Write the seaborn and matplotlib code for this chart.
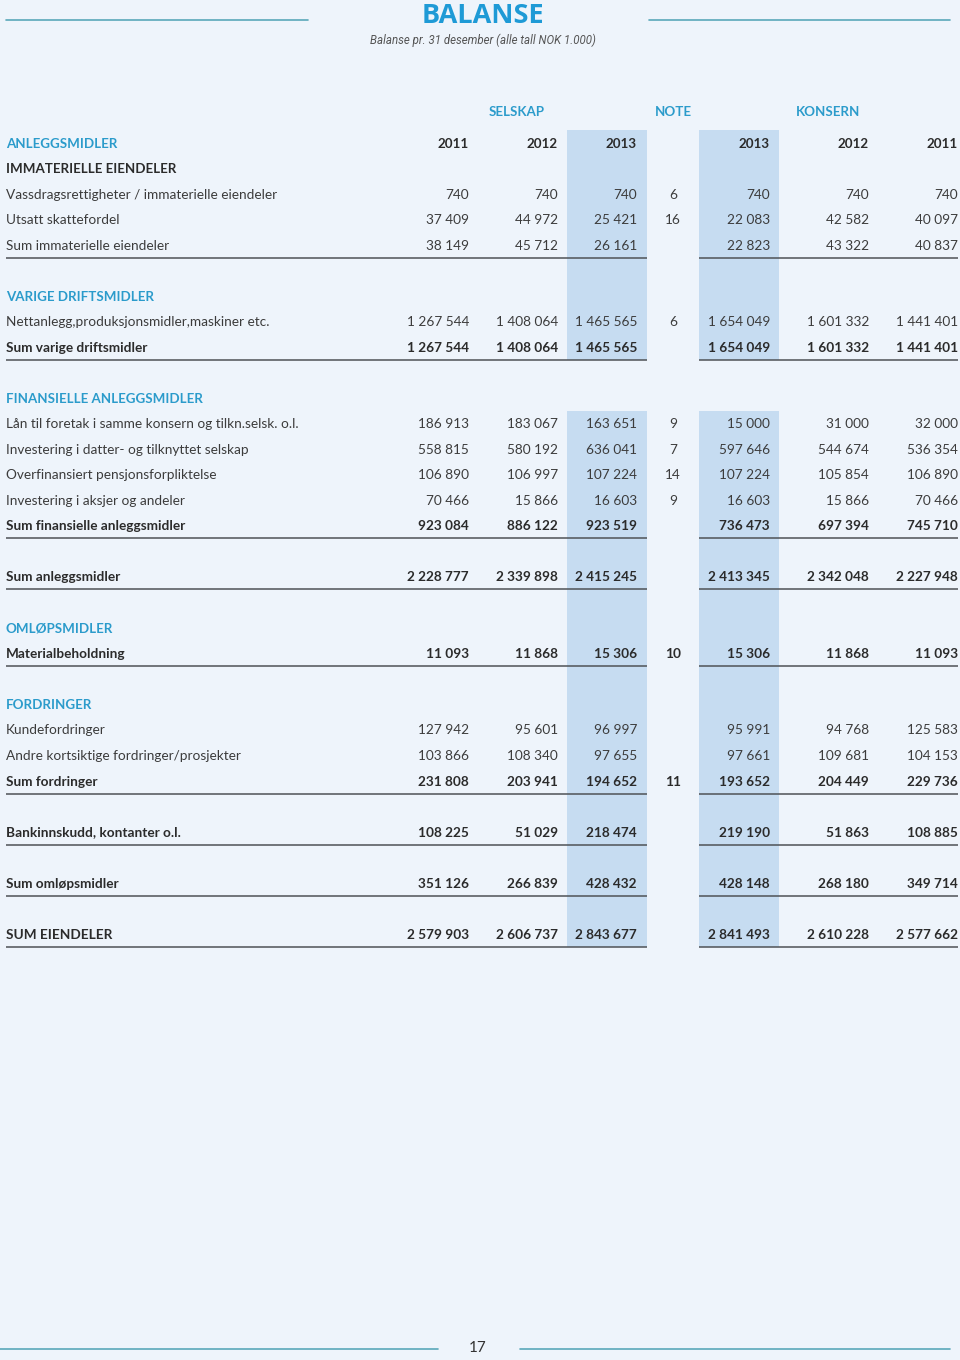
import matplotlib
matplotlib.use("Agg")
import matplotlib.pyplot as plt
import seaborn as sns

sns.set_theme(style="white")
plt.rcParams['font.family'] = ['Lato', 'DejaVu Sans']

# ---------------- data ----------------
title = "BALANSE"
subtitle = "Balanse pr. 31 desember (alle tall NOK 1.000)"
group_headers = ["SELSKAP", "NOTE", "KONSERN"]
year_headers = ["2011", "2012", "2013", "2013", "2012", "2011"]

labels = [
    "ANLEGGSMIDLER", "IMMATERIELLE EIENDELER",
    "Vassdragsrettigheter / immaterielle eiendeler", "Utsatt skattefordel",
    "Sum immaterielle eiendeler", "",
    "VARIGE DRIFTSMIDLER", "Nettanlegg,produksjonsmidler,maskiner etc.",
    "Sum varige driftsmidler", "",
    "FINANSIELLE ANLEGGSMIDLER", "Lån til foretak i samme konsern og tilkn.selsk. o.l.",
    "Investering i datter- og tilknyttet selskap", "Overfinansiert pensjonsforpliktelse",
    "Investering i aksjer og andeler", "Sum finansielle anleggsmidler", "",
    "Sum anleggsmidler", "",
    "OMLØPSMIDLER", "Materialbeholdning", "",
    "FORDRINGER", "Kundefordringer", "Andre kortsiktige fordringer/prosjekter",
    "Sum fordringer", "",
    "Bankinnskudd, kontanter o.l.", "",
    "Sum omløpsmidler", "",
    "SUM EIENDELER",
]
kinds = [
    "section", "sub", "item", "item", "sum_nl", "blank",
    "section", "item", "sum", "blank",
    "section", "item", "item", "item", "item", "sum", "blank",
    "sum", "blank",
    "section", "sum", "blank",
    "section", "item", "item", "sum", "blank",
    "sum", "blank", "sum", "blank", "sum",
]
notes = ["", "", "6", "16", "", "", "", "6", "", "", "", "9", "7", "14", "9", "", "",
         "", "", "", "10", "", "", "", "", "11", "", "", "", "", "", ""]

s2011 = [None, None, "740", "37 409", "38 149", None, None, "1 267 544", "1 267 544", None,
         None, "186 913", "558 815", "106 890", "70 466", "923 084", None, "2 228 777", None,
         None, "11 093", None, None, "127 942", "103 866", "231 808", None, "108 225", None,
         "351 126", None, "2 579 903"]
s2012 = [None, None, "740", "44 972", "45 712", None, None, "1 408 064", "1 408 064", None,
         None, "183 067", "580 192", "106 997", "15 866", "886 122", None, "2 339 898", None,
         None, "11 868", None, None, "95 601", "108 340", "203 941", None, "51 029", None,
         "266 839", None, "2 606 737"]
s2013 = [None, None, "740", "25 421", "26 161", None, None, "1 465 565", "1 465 565", None,
         None, "163 651", "636 041", "107 224", "16 603", "923 519", None, "2 415 245", None,
         None, "15 306", None, None, "96 997", "97 655", "194 652", None, "218 474", None,
         "428 432", None, "2 843 677"]
k2013 = [None, None, "740", "22 083", "22 823", None, None, "1 654 049", "1 654 049", None,
         None, "15 000", "597 646", "107 224", "16 603", "736 473", None, "2 413 345", None,
         None, "15 306", None, None, "95 991", "97 661", "193 652", None, "219 190", None,
         "428 148", None, "2 841 493"]
k2012 = [None, None, "740", "42 582", "43 322", None, None, "1 601 332", "1 601 332", None,
         None, "31 000", "544 674", "105 854", "15 866", "697 394", None, "2 342 048", None,
         None, "11 868", None, None, "94 768", "109 681", "204 449", None, "51 863", None,
         "268 180", None, "2 610 228"]
k2011 = [None, None, "740", "40 097", "40 837", None, None, "1 441 401", "1 441 401", None,
         None, "32 000", "536 354", "106 890", "70 466", "745 710", None, "2 227 948", None,
         None, "11 093", None, None, "125 583", "104 153", "229 736", None, "108 885", None,
         "349 714", None, "2 577 662"]
value_columns = [s2011, s2012, s2013, k2013, k2012, k2011]
page_number = "17"

# ---------------- layout / style ----------------
BG = "#EEF4FB"
SHADE = "#C6DCF1"
BLUE = "#2B9BCB"
DARK = "#2B2B2B"
TEXT = "#3C3C3C"
LINE = "#4E5256"
TEAL = "#5AA8BA"

col_right = [469, 558, 637, 770, 869, 958]
note_x = 673
y0, step = 143, 25.52
shade_runs = [(0, 8), (11, 31)]
shade_cols = [(567, 647), (699, 779)]

fig = plt.figure(figsize=(9.6, 13.6), dpi=100, facecolor=BG)
ax = fig.add_axes([0, 0, 1, 1])
ax.set_xlim(0, 960)
ax.set_ylim(1360, 0)
ax.set_facecolor(BG)
ax.axis("off")

def ry(i):
    return y0 + step * i

# shaded columns
for a, b in shade_runs:
    for x1, x2 in shade_cols:
        ax.fill_between([x1, x2], ry(a) - 13, ry(b) + 12.5, color=SHADE, lw=0, zorder=0)

# title area
ax.text(483, 16, title, ha="center", va="center", fontsize=19.5, fontweight="bold",
        color="#1E9AD6", family=["Open Sans", "DejaVu Sans"])
ax.text(483, 40, subtitle, ha="center", va="center", fontsize=8.3, style="italic",
        color="#555555", family=["Roboto", "DejaVu Sans"])
ax.plot([6, 308], [20, 20], color=TEAL, lw=1.2)
ax.plot([649, 950], [20, 20], color=TEAL, lw=1.2)

# group headers
for txt, x in zip(group_headers, [517, 673, 828]):
    ax.text(x, 111 + 4.5, txt, ha="center", va="baseline", fontsize=9.6,
            fontweight="bold", color=BLUE)

# year headers on row 0
for txt, x in zip(year_headers, col_right):
    ax.text(x, ry(0) + 4.5, txt, ha="right", va="baseline", fontsize=9.6,
            fontweight="bold", color=DARK)

for i, (lab, kind) in enumerate(zip(labels, kinds)):
    if kind == "blank":
        continue
    yb = ry(i) + 4.5
    if kind == "section":
        ax.text(6, yb, lab, ha="left", va="baseline", fontsize=9.6, fontweight="bold",
                color=BLUE)
        continue
    if kind == "sub":
        ax.text(6, yb, lab, ha="left", va="baseline", fontsize=9.6, fontweight="bold",
                color=DARK)
        continue
    bold = kind == "sum"
    weight = "bold" if bold else "normal"
    color = DARK if bold else TEXT
    ax.text(6, yb, lab, ha="left", va="baseline", fontsize=9.8, fontweight=weight,
            color=color)
    for col, x in zip(value_columns, col_right):
        v = col[i]
        if v:
            ax.text(x, yb, v, ha="right", va="baseline", fontsize=9.8,
                    fontweight=weight, color=color)
    if notes[i]:
        ax.text(note_x, yb, notes[i], ha="center", va="baseline", fontsize=9.8,
                fontweight=weight, color=color)
    if kind in ("sum", "sum_nl") :
        yl = ry(i) + 12.5
        ax.plot([6, 647], [yl, yl], color=LINE, lw=1.1, solid_capstyle="butt")
        ax.plot([699, 958], [yl, yl], color=LINE, lw=1.1, solid_capstyle="butt")

# footer
ax.plot([0, 438], [1349, 1349], color=TEAL, lw=1.2)
ax.plot([520, 950], [1349, 1349], color=TEAL, lw=1.2)
ax.text(478, 1348, page_number, ha="center", va="center", fontsize=11, color="#333333")

fig.savefig("out.png", dpi=100, facecolor=BG)
